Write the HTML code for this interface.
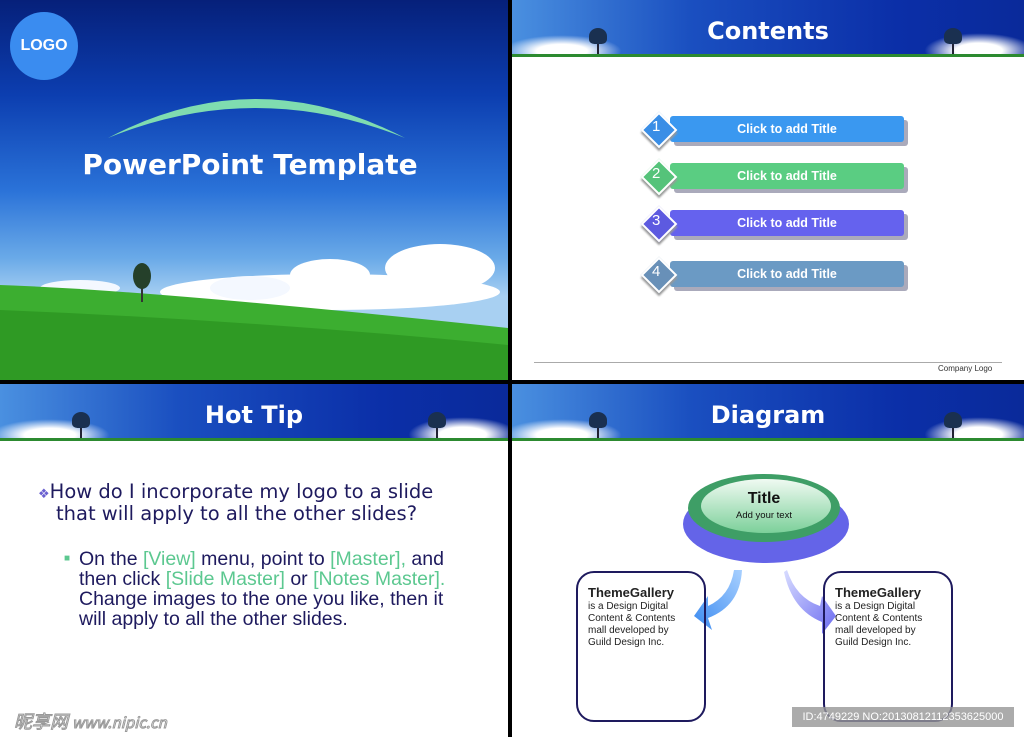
<!DOCTYPE html>
<html><head><meta charset="utf-8"><style>
*{margin:0;padding:0;box-sizing:border-box}
body{width:1024px;height:737px;background:#000;position:relative;overflow:hidden;font-family:"Liberation Sans",sans-serif}
.s{position:absolute;background:#fff;overflow:hidden}
.hdr{position:absolute;left:0;top:0;width:100%;height:57px;background:linear-gradient(90deg,#4a90e0 0%,#1a4fc0 35%,#0b2fa8 75%,#0a2a9a 100%)}
.hdr .g{position:absolute;left:0;right:0;bottom:0;height:3px;background:#2c8a30}
.hdr .c1{position:absolute;left:-10px;bottom:2px;width:120px;height:20px;background:radial-gradient(ellipse at 50% 80%,#fff 30%,rgba(255,255,255,0) 70%)}
.hdr .c2{position:absolute;right:-10px;bottom:2px;width:110px;height:22px;background:radial-gradient(ellipse at 50% 80%,#fff 30%,rgba(255,255,255,0) 70%)}
.hdr .t{position:absolute;width:100%;top:17px;text-align:center;color:#fff;font-weight:bold;font-size:24px;font-family:"DejaVu Sans",sans-serif}
.tree{position:absolute;bottom:3px;width:2px;height:24px;background:#223}
.tree:after{content:"";position:absolute;left:-8px;top:-2px;width:18px;height:16px;background:#1a3050;border-radius:50% 50% 30% 30%}
.row{position:absolute;left:128px;width:270px;height:26px}
.bar{position:absolute;left:30px;top:0;width:234px;height:26px;border-radius:3px;color:#fff;font-weight:bold;font-size:12.5px;text-align:center;line-height:26px;box-shadow:4px 4px 0 #aab}
.dia{position:absolute;left:6px;top:1px;width:26px;height:26px;transform:rotate(45deg);border:2px solid #fff;box-shadow:2px 2px 2px #999}
.num{position:absolute;left:12px;top:2px;color:#fff;font-size:15px}
.box{position:absolute;width:130px;height:151px;border:2px solid #1e1a5e;border-radius:18px;padding:12px 10px;font-size:10px;color:#222;line-height:12px}
.box b{font-size:13px;display:block;line-height:16px}
.box span{display:block;width:95px}
</style></head><body>

<!-- slide 1 -->
<div class="s" style="left:0;top:0;width:508px;height:380px;background:linear-gradient(180deg,#06207a 0%,#0c3eb0 25%,#2a72d8 50%,#6aaae8 68%,#a8d0f2 78%)">
<div style="position:absolute;left:10px;top:12px;width:68px;height:68px;border-radius:50%;background:#3a8cf0;color:#fff;font-weight:bold;font-size:16px;text-align:center;line-height:68px">LOGO</div>
<svg style="position:absolute;left:0;top:0" width="508" height="380">
<path d="M108 138 Q255 60 405 138 Q255 78 108 138Z" fill="#7fdcb0"/>
<ellipse cx="330" cy="292" rx="170" ry="18" fill="#fff"/>
<ellipse cx="440" cy="268" rx="55" ry="24" fill="#fff"/>
<ellipse cx="330" cy="275" rx="40" ry="16" fill="#fff"/>
<ellipse cx="250" cy="288" rx="40" ry="12" fill="#f4f8ff"/>
<ellipse cx="80" cy="288" rx="40" ry="8" fill="#f4f8ff"/>
<path d="M0 285 Q150 290 508 328 L508 380 L0 380Z" fill="#3cae30"/>
<path d="M0 310 Q250 320 508 345 L508 380 L0 380Z" fill="#2f9a24"/>
<rect x="141" y="278" width="2" height="24" fill="#333"/><ellipse cx="142" cy="276" rx="9" ry="13" fill="#25402a"/>
</svg>
<div style="position:absolute;left:0;width:500px;top:148px;text-align:center;color:#fff;font-weight:bold;font-size:28px;font-family:'DejaVu Sans',sans-serif">PowerPoint Template</div>
</div>

<!-- slide 2 -->
<div class="s" style="left:512px;top:0;width:512px;height:380px">
<div class="hdr"><div class="c1"></div><div class="c2"></div><div class="g"></div><div class="tree" style="left:85px"></div><div class="tree" style="left:440px"></div><div class="t">Contents</div></div>
<div class="row" style="top:116px"><div class="bar" style="background:#3a98f0">Click to add Title</div><div class="dia" style="background:#3a8ee6"></div><div class="num">1</div></div>
<div class="row" style="top:163px"><div class="bar" style="background:#5acd82">Click to add Title</div><div class="dia" style="background:#55c37a"></div><div class="num">2</div></div>
<div class="row" style="top:210px"><div class="bar" style="background:#6562ee">Click to add Title</div><div class="dia" style="background:#5d5ae0"></div><div class="num">3</div></div>
<div class="row" style="top:261px"><div class="bar" style="background:#6b9ac4">Click to add Title</div><div class="dia" style="background:#6890b8"></div><div class="num">4</div></div>
<div style="position:absolute;left:22px;top:362px;width:468px;height:1px;background:#aaa"></div>
<div style="position:absolute;left:426px;top:364px;font-size:8px;color:#333">Company Logo</div>
</div>

<!-- slide 3 -->
<div class="s" style="left:0;top:384px;width:508px;height:353px">
<div class="hdr"><div class="c1"></div><div class="c2"></div><div class="g"></div><div class="tree" style="left:80px"></div><div class="tree" style="left:436px"></div><div class="t">Hot Tip</div></div>
<div style="position:absolute;left:38px;top:98px;font-size:19.5px;line-height:19px;color:#1e1a5e;font-family:'DejaVu Sans',sans-serif;white-space:nowrap"><span style="color:#6a60d0;font-size:13px">❖</span>How do I incorporate my logo to a slide<br><span style="padding-left:18px">that will apply to all the other slides?</span></div>
<div style="position:absolute;left:64px;top:165px;width:410px;font-size:19.5px;line-height:20px;color:#1e1a5e"><span style="color:#5cc890;font-size:10px;position:absolute;left:0;top:0">■</span><div style="padding-left:15px">On the <span style="color:#5cc890">[View]</span> menu, point to <span style="color:#5cc890">[Master],</span> and<br>then click <span style="color:#5cc890">[Slide Master]</span> or <span style="color:#5cc890">[Notes Master].</span><br>Change images to the one you like, then it<br>will apply to all the other slides.</div></div>
<div style="position:absolute;left:14px;top:324px;font-size:18px;color:#fff;-webkit-text-stroke:1px #999;font-style:italic;font-family:'Noto Sans CJK SC',sans-serif">昵享网 <span style="font-size:15px">www.nipic.cn</span></div>
</div>

<!-- slide 4 -->
<div class="s" style="left:512px;top:384px;width:512px;height:353px">
<div class="hdr"><div class="c1"></div><div class="c2"></div><div class="g"></div><div class="tree" style="left:85px"></div><div class="tree" style="left:440px"></div><div class="t">Diagram</div></div>
<svg style="position:absolute;left:0;top:0" width="512" height="353">
<defs><linearGradient id="gr" x1="0" y1="0" x2="0" y2="1"><stop offset="0" stop-color="#f0faf2"/><stop offset="1" stop-color="#7cd09a"/></linearGradient>
<linearGradient id="a1" x1="1" y1="0" x2="0" y2="1"><stop offset="0" stop-color="#a8d0ff"/><stop offset="1" stop-color="#3a8af0"/></linearGradient>
<linearGradient id="a2" x1="0" y1="0" x2="1" y2="1"><stop offset="0" stop-color="#d8dcff"/><stop offset="1" stop-color="#6a6af0"/></linearGradient></defs>
<ellipse cx="254" cy="140" rx="83" ry="39" fill="#6464e8"/>
<ellipse cx="252" cy="124" rx="76" ry="34" fill="#3e9e66"/>
<ellipse cx="254" cy="122" rx="65" ry="27" fill="url(#gr)"/>
<path d="M230 186 Q228 222 196 234 L200 246 L182 232 L196 212 L196 222 Q218 212 222 186Z" fill="url(#a1)"/>
<path d="M275 186 Q284 214 308 222 L310 212 L324 232 L310 250 L310 238 Q280 226 272 188Z" fill="url(#a2)"/>
</svg>
<div style="position:absolute;left:200px;top:106px;width:104px;text-align:center;font-weight:bold;font-size:16px;color:#111">Title</div>
<div style="position:absolute;left:200px;top:126px;width:104px;text-align:center;font-size:9.5px;color:#111">Add your text</div>
<div class="box" style="left:64px;top:187px"><b>ThemeGallery</b><span>is a Design Digital Content &amp; Contents mall developed by Guild Design Inc.</span></div>
<div class="box" style="left:311px;top:187px"><b>ThemeGallery</b><span>is a Design Digital Content &amp; Contents mall developed by Guild Design Inc.</span></div>
<div style="position:absolute;left:280px;top:323px;width:222px;height:20px;background:rgba(150,150,150,0.8);color:#fff;font-size:11px;line-height:20px;text-align:center">ID:4749229 NO:20130812112353625000</div>
</div>
</body></html>
